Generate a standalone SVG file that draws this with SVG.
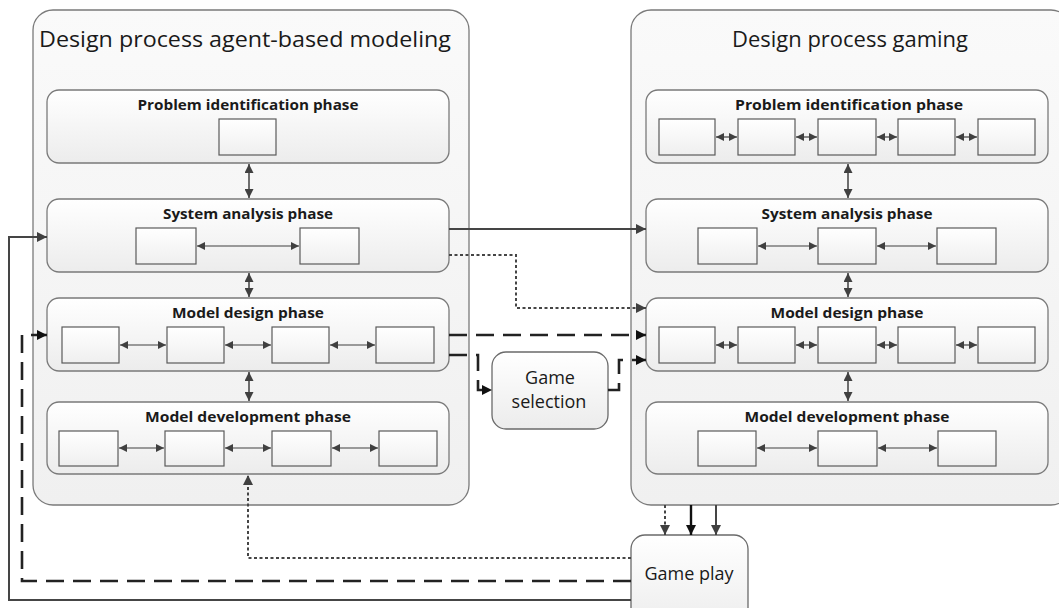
<svg xmlns="http://www.w3.org/2000/svg" width="1059" height="608" viewBox="0 0 1059 608">
<style>
.cont{fill:url(#gCont);stroke:#7a7a7a;stroke-width:1.3}
.phase{fill:url(#gPhase);stroke:#7a7a7a;stroke-width:1.3}
.box{fill:url(#gBox);stroke:#5a5a5a;stroke-width:1.2}
.node{fill:url(#gPhase);stroke:#6a6a6a;stroke-width:1.3}
.title{font-family:"Open Sans","Liberation Sans",sans-serif;font-size:22px;fill:#1a1a1a;text-anchor:middle}
.ph{font-family:"Open Sans","Liberation Sans",sans-serif;font-size:15px;font-weight:bold;fill:#1a1a1a;text-anchor:middle}
.lbl{font-family:"Open Sans","Liberation Sans",sans-serif;font-size:18px;fill:#1a1a1a;text-anchor:middle}
.in{stroke:#404040;stroke-width:1.2;fill:none;marker-start:url(#as);marker-end:url(#as)}
.vv{stroke:#404040;stroke-width:1.5;fill:none;marker-start:url(#av);marker-end:url(#av)}
.c{fill:none;stroke:#454545;stroke-width:2}
.dot{stroke-dasharray:3,2.5}
.dash{stroke:#222;stroke-width:2.6;stroke-dasharray:18,9}
</style>
<defs>
<linearGradient id="gCont" x1="0" y1="0" x2="0" y2="1"><stop offset="0" stop-color="#fafafa"/><stop offset="1" stop-color="#f0f0f0"/></linearGradient>
<linearGradient id="gPhase" x1="0" y1="0" x2="0" y2="1"><stop offset="0" stop-color="#ffffff"/><stop offset="1" stop-color="#ececec"/></linearGradient>
<linearGradient id="gBox" x1="0" y1="0" x2="0" y2="1"><stop offset="0" stop-color="#ffffff"/><stop offset="1" stop-color="#efefef"/></linearGradient>
<marker id="ah" viewBox="0 0 10 10" refX="10" refY="5" markerWidth="12" markerHeight="10" markerUnits="userSpaceOnUse" orient="auto-start-reverse"><path d="M0,0 L10,5 L0,10 z" fill="#404040"/></marker>
<marker id="ahk" viewBox="0 0 10 10" refX="10" refY="5" markerWidth="12" markerHeight="10" markerUnits="userSpaceOnUse" orient="auto-start-reverse"><path d="M0,0 L10,5 L0,10 z" fill="#111"/></marker>
<marker id="as" viewBox="0 0 10 10" refX="10" refY="5" markerWidth="9" markerHeight="8" markerUnits="userSpaceOnUse" orient="auto-start-reverse"><path d="M0,0 L10,5 L0,10 z" fill="#404040"/></marker>
<marker id="av" viewBox="0 0 10 10" refX="10" refY="5" markerWidth="10" markerHeight="9" markerUnits="userSpaceOnUse" orient="auto-start-reverse"><path d="M0,0 L10,5 L0,10 z" fill="#404040"/></marker>
</defs>

<g id="abm">
<rect class="cont" x="33" y="10" width="436" height="495" rx="20"/>
<text class="title" x="245" y="47" textLength="412" lengthAdjust="spacingAndGlyphs">Design process agent-based modeling</text>
</g>
<g id="gaming">
<rect class="cont" x="631" y="10" width="440" height="495" rx="20"/>
<text class="title" x="850" y="47" textLength="236" lengthAdjust="spacingAndGlyphs">Design process gaming</text>
</g>

<g id="abm-problem">
<rect class="phase" x="47" y="90" width="402" height="73" rx="12"/>
<text class="ph" x="248" y="110" textLength="221" lengthAdjust="spacingAndGlyphs">Problem identification phase</text>
<rect class="box" x="219" y="119" width="57" height="36"/>
</g>
<g id="abm-system">
<rect class="phase" x="47" y="199" width="402" height="73" rx="12"/>
<text class="ph" x="248" y="219" textLength="170" lengthAdjust="spacingAndGlyphs">System analysis phase</text>
<rect class="box" x="136" y="228" width="60" height="36"/>
<rect class="box" x="300" y="228" width="59" height="36"/>
<line class="in" x1="197" y1="246" x2="299" y2="246"/>
</g>
<g id="abm-design">
<rect class="phase" x="47" y="298" width="402" height="73" rx="12"/>
<text class="ph" x="248" y="318" textLength="152" lengthAdjust="spacingAndGlyphs">Model design phase</text>
<rect class="box" x="62" y="327" width="57" height="36"/>
<rect class="box" x="167" y="327" width="57" height="36"/>
<rect class="box" x="272" y="327" width="57" height="36"/>
<rect class="box" x="376" y="327" width="58" height="36"/>
<line class="in" x1="120" y1="345" x2="166" y2="345"/>
<line class="in" x1="225" y1="345" x2="271" y2="345"/>
<line class="in" x1="330" y1="345" x2="375" y2="345"/>
</g>
<g id="abm-development">
<rect class="phase" x="47" y="402" width="402" height="72" rx="12"/>
<text class="ph" x="248" y="422" textLength="206" lengthAdjust="spacingAndGlyphs">Model development phase</text>
<rect class="box" x="59" y="431" width="59" height="35"/>
<rect class="box" x="165" y="431" width="59" height="35"/>
<rect class="box" x="272" y="431" width="59" height="35"/>
<rect class="box" x="379" y="431" width="58" height="35"/>
<line class="in" x1="119" y1="448" x2="164" y2="448"/>
<line class="in" x1="225" y1="448" x2="271" y2="448"/>
<line class="in" x1="332" y1="448" x2="378" y2="448"/>
</g>

<g id="gam-problem">
<rect class="phase" x="646" y="90" width="402" height="73" rx="12"/>
<text class="ph" x="849" y="110" textLength="228" lengthAdjust="spacingAndGlyphs">Problem identification phase</text>
<rect class="box" x="659" y="119" width="56" height="36"/>
<rect class="box" x="738" y="119" width="57" height="36"/>
<rect class="box" x="818" y="119" width="58" height="36"/>
<rect class="box" x="898" y="119" width="57" height="36"/>
<rect class="box" x="978" y="119" width="57" height="36"/>
<line class="in" x1="716" y1="137" x2="737" y2="137"/>
<line class="in" x1="796" y1="137" x2="817" y2="137"/>
<line class="in" x1="877" y1="137" x2="897" y2="137"/>
<line class="in" x1="956" y1="137" x2="977" y2="137"/>
</g>
<g id="gam-system">
<rect class="phase" x="646" y="199" width="402" height="73" rx="12"/>
<text class="ph" x="847" y="219" textLength="171" lengthAdjust="spacingAndGlyphs">System analysis phase</text>
<rect class="box" x="698" y="228" width="59" height="36"/>
<rect class="box" x="818" y="228" width="58" height="36"/>
<rect class="box" x="937" y="228" width="59" height="36"/>
<line class="in" x1="758" y1="246" x2="817" y2="246"/>
<line class="in" x1="877" y1="246" x2="936" y2="246"/>
</g>
<g id="gam-design">
<rect class="phase" x="646" y="298" width="402" height="73" rx="12"/>
<text class="ph" x="847" y="318" textLength="153" lengthAdjust="spacingAndGlyphs">Model design phase</text>
<rect class="box" x="659" y="327" width="56" height="36"/>
<rect class="box" x="738" y="327" width="57" height="36"/>
<rect class="box" x="818" y="327" width="58" height="36"/>
<rect class="box" x="898" y="327" width="57" height="36"/>
<rect class="box" x="978" y="327" width="57" height="36"/>
<line class="in" x1="716" y1="345" x2="737" y2="345"/>
<line class="in" x1="796" y1="345" x2="817" y2="345"/>
<line class="in" x1="877" y1="345" x2="897" y2="345"/>
<line class="in" x1="956" y1="345" x2="977" y2="345"/>
</g>
<g id="gam-development">
<rect class="phase" x="646" y="402" width="402" height="72" rx="12"/>
<text class="ph" x="847" y="422" textLength="205" lengthAdjust="spacingAndGlyphs">Model development phase</text>
<rect class="box" x="698" y="431" width="58" height="35"/>
<rect class="box" x="818" y="431" width="59" height="35"/>
<rect class="box" x="938" y="431" width="58" height="35"/>
<line class="in" x1="757" y1="448" x2="817" y2="448"/>
<line class="in" x1="878" y1="448" x2="937" y2="448"/>
</g>

<g id="game-selection">
<rect class="node" x="492" y="352" width="116" height="77" rx="14"/>
<text class="lbl" x="550" y="384">Game</text>
<text class="lbl" x="549" y="408">selection</text>
</g>
<g id="game-play">
<rect class="node" x="631" y="535" width="117" height="95" rx="14"/>
<text class="lbl" x="689" y="580">Game play</text>
</g>

<g id="connectors">
<line class="vv" x1="249" y1="164" x2="249" y2="198"/>
<line class="vv" x1="249" y1="273" x2="249" y2="297"/>
<line class="vv" x1="249" y1="372" x2="249" y2="401"/>
<line class="vv" x1="848" y1="164" x2="848" y2="198"/>
<line class="vv" x1="848" y1="273" x2="848" y2="297"/>
<line class="vv" x1="848" y1="372" x2="848" y2="401"/>

<path class="c" d="M449,229 H646" marker-end="url(#ah)"/>
<path class="c dot" d="M449,255 H516 V308 H646" marker-end="url(#ah)"/>
<path class="c dash" d="M449,335 H646" marker-end="url(#ahk)"/>
<path class="c dash" d="M449,355 H478 V390 H492" marker-end="url(#ahk)"/>
<path class="c dash" d="M608,390 H619 V360 H646" marker-end="url(#ahk)"/>

<path class="c dot" d="M665,505 V535" marker-end="url(#ah)"/>
<path class="c" style="stroke:#111;stroke-width:2.4" d="M691,505 V535" marker-end="url(#ahk)"/>
<path class="c" d="M716,505 V535" marker-end="url(#ah)"/>

<path class="c dot" d="M631,558 H248 V475" marker-end="url(#ah)"/>
<path class="c dash" d="M631,581 H22 V335 H47" marker-end="url(#ahk)"/>
<path class="c" d="M631,600 H9 V237 H47" marker-end="url(#ah)"/>
</g>
</svg>
